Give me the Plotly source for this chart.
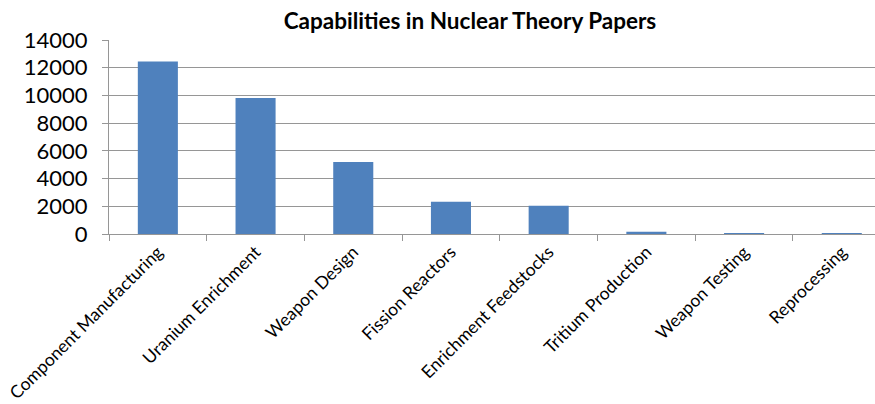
import plotly.graph_objects as go

categories = [
    "Component Manufacturing",
    "Uranium Enrichment",
    "Weapon Design",
    "Fission Reactors",
    "Enrichment Feedstocks",
    "Tritium Production",
    "Weapon Testing",
    "Reprocessing",
]
paper_counts = [12450, 9820, 5200, 2330, 2030, 160, 70, 60]
y_ticks = [0, 2000, 4000, 6000, 8000, 10000, 12000, 14000]

fig = go.Figure(
    go.Bar(
        x=categories,
        y=paper_counts,
        marker=dict(color="#4F81BD", line=dict(width=0)),
    )
)

fig.update_layout(
    width=875,
    height=404,
    margin=dict(l=109, r=0, t=40, b=170),
    paper_bgcolor="white",
    plot_bgcolor="white",
    bargap=0.59,
    showlegend=False,
    font=dict(family="Lato, 'Open Sans', sans-serif", color="#000000"),
    title=dict(
        text="<b>Capabilities in Nuclear Theory Papers</b>",
        x=470 / 875,
        xanchor="center",
        y=1 - 21 / 404,
        yanchor="middle",
        font=dict(size=22.5, family="Lato, 'Open Sans', sans-serif"),
    ),
)

fig.update_yaxes(
    range=[0, 14000],
    tickvals=y_ticks,
    ticktext=[str(v) for v in y_ticks],
    showgrid=True,
    gridcolor="#969696",
    gridwidth=1,
    showline=True,
    linecolor="#969696",
    ticks="outside",
    ticklen=6,
    tickcolor="#969696",
    tickfont=dict(size=22),
    ticklabelstandoff=10,
    zeroline=False,
)

fig.update_xaxes(
    range=[-0.5, 7.34],
    showline=True,
    linecolor="#969696",
    ticks="outside",
    tickson="boundaries",
    ticklen=6,
    tickcolor="#969696",
    tickangle=-45,
    tickfont=dict(size=17.5),
)

fig.write_html("out.html")
